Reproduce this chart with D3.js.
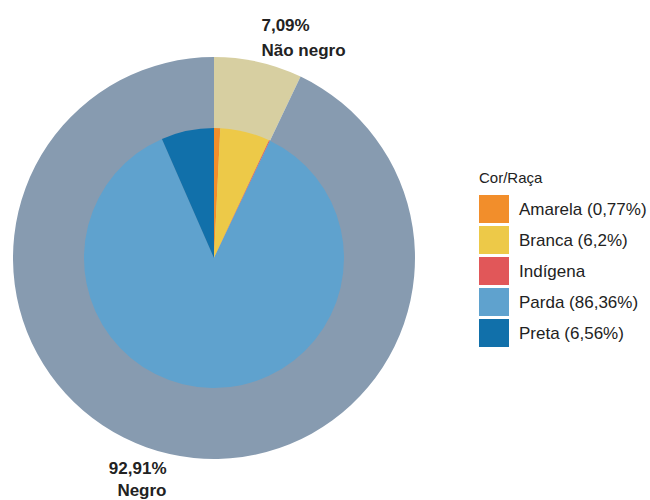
<!DOCTYPE html>
<html>
<head>
<meta charset="utf-8">
<script src="https://cdnjs.cloudflare.com/ajax/libs/d3/7.8.5/d3.min.js"></script>
<style>
  body { margin: 0; background: #fff; }
  text { font-family: "Liberation Sans", Arial, sans-serif; fill: #222; }
</style>
</head>
<body>
<div id="chart"></div>
<script>
// outer ring: negro / nao negro
var grupos = ["Não negro", "Negro"];
var grupoValores = [7.09, 92.91];
var grupoRotulos = ["7,09%", "92,91%"];
var grupoCores = ["#d7cfa1", "#879bb0"];

// inner pie: cor/raca
var racas = ["Amarela", "Branca", "Indígena", "Parda", "Preta"];
var racaValores = [0.77, 6.2, 0.11, 86.36, 6.56];
var racaLegenda = ["Amarela (0,77%)", "Branca (6,2%)", "Indígena", "Parda (86,36%)", "Preta (6,56%)"];
var racaCores = ["#f28e2b", "#edc948", "#e15759", "#5fa2ce", "#1170aa"];

var width = 650, height = 500;
var cx = 214, cy = 258;
var outerR = 201, innerR = 130;

var svg = d3.select("#chart")
    .append("svg")
    .attr("width", width)
    .attr("height", height);

var g = svg.append("g")
    .attr("transform", "translate(" + cx + "," + cy + ")");

var pie = d3.pie().sort(null).value(function(d) { return d.v; });

var outerData = pie(grupos.map(function(k, i) { return { k: k, v: grupoValores[i], i: i }; }));
var innerData = pie(racas.map(function(k, i) { return { k: k, v: racaValores[i], i: i }; }));

var arcOuter = d3.arc().innerRadius(0).outerRadius(outerR);
var arcInner = d3.arc().innerRadius(0).outerRadius(innerR);

g.selectAll(".outer")
    .data(outerData)
  .enter().append("path")
    .attr("class", "outer")
    .attr("d", arcOuter)
    .attr("fill", function(d) { return grupoCores[d.data.i]; });

g.selectAll(".inner")
    .data(innerData)
  .enter().append("path")
    .attr("class", "inner")
    .attr("d", arcInner)
    .attr("fill", function(d) { return racaCores[d.data.i]; });

// labels for outer ring
var arcLabel = d3.arc().innerRadius(215).outerRadius(215);
outerData.forEach(function(d) {
  var c = arcLabel.centroid(d);
  var mid = (d.startAngle + d.endAngle) / 2;
  var anchor = Math.sin(mid) >= 0 ? "start" : "end";
  var top = Math.cos(mid) > 0;
  var y1 = top ? c[1] - 17 : c[1] + 6;
  var t = g.append("text")
      .attr("text-anchor", anchor)
      .style("font-size", "17px")
      .style("font-weight", "bold");
  t.append("tspan").attr("x", c[0]).attr("y", y1).text(grupoRotulos[d.data.i]);
  t.append("tspan").attr("x", c[0]).attr("y", y1 + (top ? 25 : 22)).text(grupos[d.data.i]);
});

// legend
var legend = svg.append("g").attr("transform", "translate(479,183)");
legend.append("text")
    .attr("x", 0).attr("y", 0)
    .style("font-size", "15px")
    .text("Cor/Raça");

var row = legend.selectAll(".row")
    .data(racas)
  .enter().append("g")
    .attr("class", "row")
    .attr("transform", function(d, i) { return "translate(0," + (12 + i * 31) + ")"; });

row.append("rect")
    .attr("width", 30)
    .attr("height", 28)
    .attr("fill", function(d, i) { return racaCores[i]; });

row.append("text")
    .attr("x", 40)
    .attr("y", 20)
    .style("font-size", "17px")
    .text(function(d, i) { return racaLegenda[i]; });
</script>
</body>
</html>
